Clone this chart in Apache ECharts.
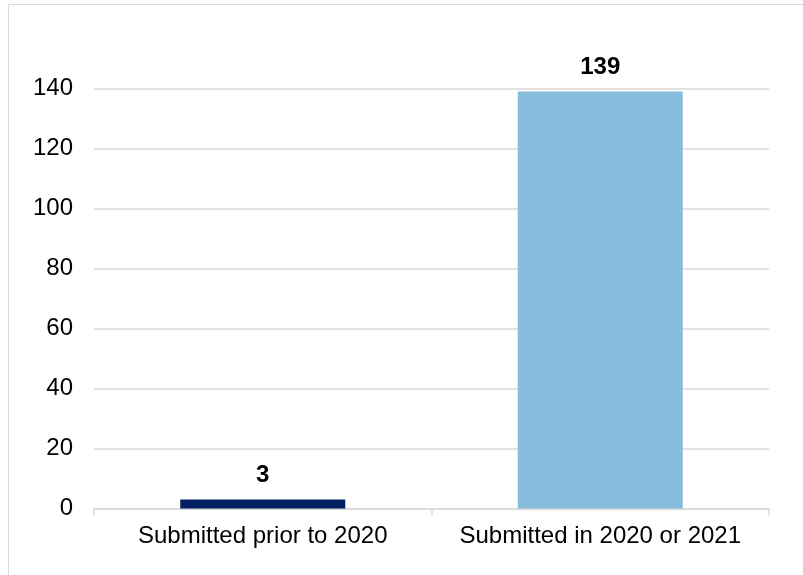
<!DOCTYPE html>
<html>
<head>
<meta charset="utf-8">
<script src="https://cdn.jsdelivr.net/npm/echarts@6/dist/echarts.min.js"></script>
<style>
  html, body { margin: 0; padding: 0; background: #fff; }
  #frame { position: absolute; left: 8px; top: 4px; width: 795px; height: 571px;
           border-left: 1.5px solid #d9d9d9; border-top: 1.5px solid #d9d9d9; box-sizing: border-box; }
  #chart { position: absolute; left: 0; top: 0; width: 803px; height: 575px; }
</style>
</head>
<body>
<div id="frame"></div>
<div id="chart"></div>
<script>
const categories = ['Submitted prior to 2020', 'Submitted in 2020 or 2021'];
const values = [3, 139];
const barColors = ['#002060', '#86BDDC'];
const yTicks = { min: 0, max: 140, interval: 20 };

const chart = echarts.init(document.getElementById('chart'), null, { renderer: 'canvas' });
const font = 'Liberation Sans, Arial, sans-serif';
chart.setOption({
  backgroundColor: 'transparent',
  animation: false,
  grid: { left: 94, right: 34, top: 88.5, bottom: 66.5, containLabel: false },
  xAxis: {
    type: 'category',
    data: categories,
    axisLine: { lineStyle: { color: '#d9d9d9', width: 1.5 } },
    axisTick: { show: true, length: 7, lineStyle: { color: '#d9d9d9', width: 1.5 } },
    axisLabel: { color: '#000', fontFamily: font, fontSize: 24, margin: 16, interval: 0 }
  },
  yAxis: {
    type: 'value',
    min: yTicks.min, max: yTicks.max, interval: yTicks.interval,
    axisLine: { show: false },
    axisTick: { show: false },
    splitLine: { lineStyle: { color: '#d9d9d9', width: 1.5 } },
    axisLabel: { color: '#000', fontFamily: font, fontSize: 24, margin: 21 }
  },
  series: [{
    type: 'bar',
    barWidth: 165,
    data: values.map((v, i) => ({ value: v, itemStyle: { color: barColors[i] } })),
    label: {
      show: true, position: 'top', distance: 12,
      color: '#000', fontFamily: font, fontSize: 24, fontWeight: 'bold'
    }
  }]
});
</script>
</body>
</html>
